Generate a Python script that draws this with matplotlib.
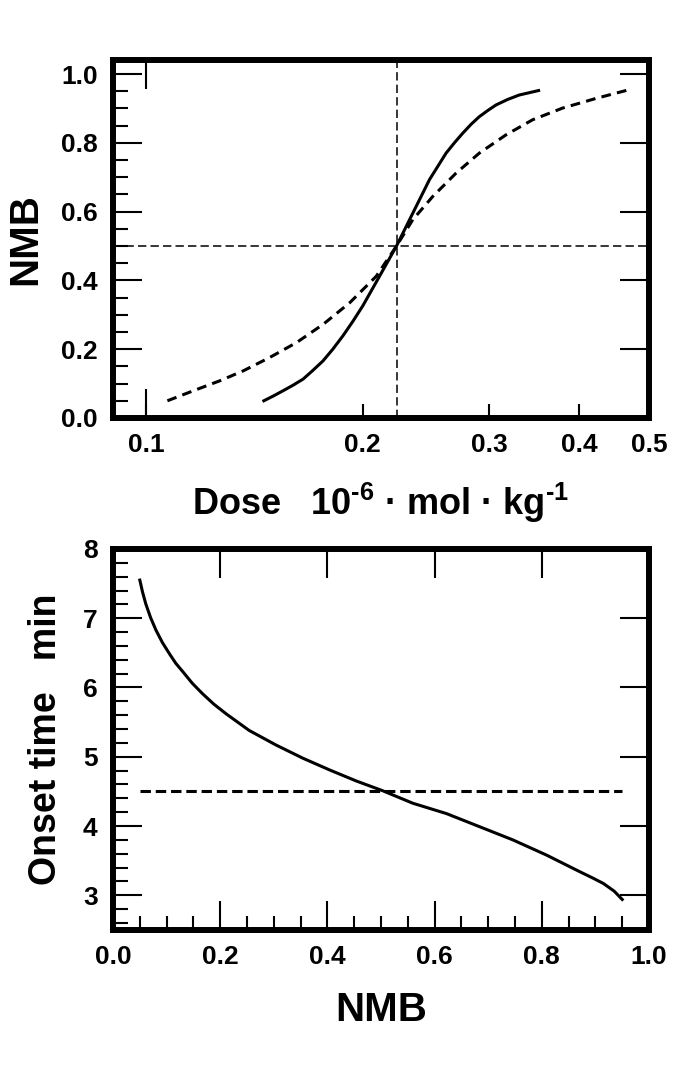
import numpy as np
import matplotlib
matplotlib.use("Agg")
import matplotlib.pyplot as plt
from matplotlib.ticker import FixedLocator, NullFormatter, FormatStrFormatter

plt.rcParams['font.family'] = ['Liberation Sans', 'DejaVu Sans']
plt.rcParams['font.weight'] = 'bold'
plt.rcParams['axes.labelweight'] = 'bold'
plt.rcParams['mathtext.fontset'] = 'custom'
plt.rcParams['mathtext.rm'] = 'Liberation Sans:bold'
plt.rcParams['mathtext.bf'] = 'Liberation Sans:bold'
plt.rcParams['lines.scale_dashes'] = False

# top panel: NMB vs dose
dose_solid = [0.1458, 0.1500, 0.1550, 0.1600, 0.1653, 0.1705, 0.1762, 0.1818,
              0.1878, 0.1940, 0.2001, 0.2111, 0.2229,
              0.2349, 0.2477, 0.2612, 0.2685, 0.2755, 0.2830, 0.2905, 0.2985,
              0.3064, 0.3180, 0.3301, 0.3512]
nmb_solid = [0.05, 0.063, 0.079, 0.095, 0.113, 0.138, 0.166, 0.200,
             0.239, 0.282, 0.326, 0.412, 0.5,
             0.596, 0.693, 0.770, 0.801, 0.828, 0.854, 0.876, 0.894,
             0.910, 0.926, 0.939, 0.952]

dose_dashed = [0.1071, 0.1163, 0.1266, 0.1365, 0.1486, 0.1618, 0.1762, 0.1919,
               0.2089, 0.2229, 0.2349, 0.2503, 0.2697, 0.2905, 0.3163, 0.3445,
               0.3792, 0.4218, 0.4682]
nmb_dashed = [0.05, 0.079, 0.108, 0.137, 0.176, 0.219, 0.272, 0.335,
              0.412, 0.5, 0.577, 0.644, 0.712, 0.770, 0.823, 0.867,
              0.901, 0.929, 0.954]

ed50 = 0.223
nmb_ref = 0.5

# bottom panel: onset time vs NMB
nmb_onset = [0.05, 0.055, 0.061, 0.070, 0.080, 0.092, 0.105, 0.117, 0.130, 0.148,
             0.167, 0.188, 0.211, 0.254, 0.304, 0.354,
             0.404, 0.454, 0.503, 0.559, 0.622, 0.684, 0.746, 0.809, 0.871,
             0.895, 0.915, 0.935, 0.95]
onset = [7.55, 7.38, 7.21, 7.01, 6.83, 6.65, 6.49, 6.35, 6.23, 6.06,
         5.91, 5.76, 5.62, 5.38, 5.17, 4.98,
         4.81, 4.65, 4.51, 4.33, 4.18, 3.99, 3.80, 3.58, 3.34,
         3.25, 3.17, 3.06, 2.94]
onset_ref = 4.5
onset_ref_range = [0.05, 0.95]

fig = plt.figure(figsize=(6.85, 10.84), dpi=100)
ax1 = fig.add_axes([0.165, 0.6144, 0.7825, 0.330])
ax2 = fig.add_axes([0.165, 0.1421, 0.7825, 0.3515])

tick_font = ['Liberation Sans Narrow', 'Liberation Sans']

for ax in (ax1, ax2):
    for s in ax.spines.values():
        s.set_linewidth(4.3)
    ax.tick_params(which='both', direction='in', width=1.5, labelsize=19,
                   pad=11)

# ---- top panel
ax1.plot(dose_solid, nmb_solid, color='black', lw=2.2, solid_joinstyle='round')
ax1.plot(dose_dashed, nmb_dashed, color='black', lw=2.2, dashes=(7, 4.5))
ax1.axvline(ed50, color='black', lw=1.1, dashes=(6, 3))
ax1.axhline(nmb_ref, color='black', lw=1.1, dashes=(6, 3))
ax1.set_xscale('log')
ax1.set_xlim(0.09, 0.5)
ax1.set_ylim(0, 1.04)
ax1.xaxis.remove_overlapping_locs = False
ax1.xaxis.set_major_locator(FixedLocator([0.1, 0.2, 0.3, 0.4, 0.5]))
ax1.xaxis.set_major_formatter(FormatStrFormatter('%.1f'))
ax1.xaxis.set_minor_locator(FixedLocator([0.1]))
ax1.xaxis.set_minor_formatter(NullFormatter())
ax1.yaxis.set_major_locator(FixedLocator(np.arange(0, 1.01, 0.2)))
ax1.yaxis.set_major_formatter(FormatStrFormatter('%.1f'))
ax1.yaxis.set_minor_locator(FixedLocator(np.arange(0, 1.01, 0.05)))
ax1.tick_params(axis='x', which='major', length=10, top=False, bottom=True)
ax1.tick_params(axis='x', which='minor', length=21, top=True, bottom=True)
ax1.tick_params(axis='y', which='major', length=21, left=True, right=True)
ax1.tick_params(axis='y', which='minor', length=11, left=True, right=False)
ax1.set_ylabel('NMB', fontsize=29, labelpad=12)
ax1.set_xlabel(r'Dose   $10^{\text{-}6}$ · mol · kg$^{\text{-}1}$',
               fontsize=26, labelpad=17)

# ---- bottom panel
ax2.plot(nmb_onset, onset, color='black', lw=2.2, solid_joinstyle='round')
ax2.plot(onset_ref_range, [onset_ref, onset_ref], color='black', lw=2.2,
         dashes=(7.5, 3.5))
ax2.set_xlim(0, 1)
ax2.set_ylim(2.5, 8)
ax2.xaxis.set_major_locator(FixedLocator(np.arange(0, 1.01, 0.2)))
ax2.xaxis.set_major_formatter(FormatStrFormatter('%.1f'))
ax2.xaxis.set_minor_locator(FixedLocator(np.arange(0, 1.01, 0.05)))
ax2.yaxis.set_major_locator(FixedLocator([3, 4, 5, 6, 7, 8]))
ax2.yaxis.set_major_formatter(FormatStrFormatter('%d'))
ax2.yaxis.set_minor_locator(FixedLocator(np.arange(2.6, 8.0, 0.2)))
ax2.tick_params(axis='x', which='major', length=21, top=True, bottom=True)
ax2.tick_params(axis='x', which='minor', length=10, top=False, bottom=True)
ax2.tick_params(axis='y', which='major', length=21, left=True, right=True)
ax2.tick_params(axis='y', which='minor', length=11, left=True, right=False)
ax2.set_ylabel('Onset time   min', fontsize=27, labelpad=14)
ax2.set_xlabel('NMB', fontsize=29, labelpad=16)

for ax in (ax1, ax2):
    for lab in ax.get_xticklabels() + ax.get_yticklabels():
        lab.set_family(tick_font)
        lab.set_fontweight('bold')

fig.savefig('out.png', dpi=100, facecolor='white')
